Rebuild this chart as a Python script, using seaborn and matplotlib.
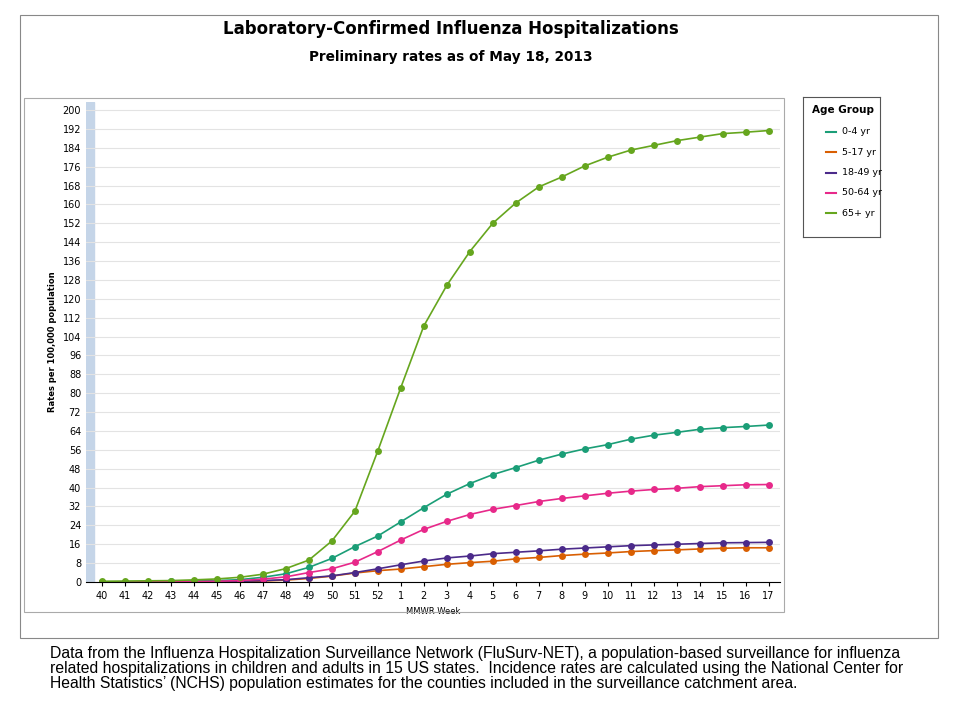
import matplotlib
matplotlib.use("Agg")
import matplotlib.pyplot as plt
import seaborn as sns
import pandas as pd
from matplotlib.patches import Rectangle

weeks = [str(w) for w in list(range(40, 53)) + list(range(1, 18))]
age_0_4 = [0.1,0.1,0.2,0.3,0.4,0.6,1.0,2.0,3.5,6.2,10.0,15.0,19.5,25.5,31.5,37.2,41.7,45.5,48.5,51.6,54.2,56.4,58.2,60.5,62.2,63.4,64.7,65.4,65.9,66.5]
age_5_17 = [0,0,0,0,0.1,0.1,0.2,0.4,0.8,1.5,2.5,3.8,4.8,5.5,6.5,7.5,8.2,8.8,9.8,10.4,11.2,11.8,12.3,12.9,13.3,13.6,14.0,14.3,14.5,14.5]
age_18_49 = [0,0,0,0,0.1,0.1,0.3,0.6,1.0,1.8,2.6,4.0,5.6,7.3,8.9,10.2,11.0,12.0,12.6,13.2,13.9,14.4,14.9,15.4,15.7,16.0,16.3,16.6,16.7,16.8]
age_50_64 = [0,0,0.1,0.1,0.2,0.3,0.6,1.2,2.2,4.0,5.6,8.4,12.9,17.8,22.3,25.7,28.6,30.8,32.4,34.1,35.4,36.5,37.6,38.5,39.2,39.7,40.4,40.8,41.2,41.3]
age_65 = [0.3,0.4,0.5,0.6,0.9,1.3,2.0,3.3,5.7,9.3,17.4,30.0,55.6,82.4,108.5,125.7,140.0,152.0,160.6,167.4,171.6,176.3,180.0,183.0,185.0,187.0,188.5,190.0,190.6,191.3]
groups = ["0-4 yr", "5-17 yr", "18-49 yr", "50-64 yr", "65+ yr"]
colors = ["#1b9e77", "#d95f02", "#4b2a8a", "#e7298a", "#66a61e"]

rows = []
for g, vals in zip(groups, [age_0_4, age_5_17, age_18_49, age_50_64, age_65]):
    for i, v in enumerate(vals):
        rows.append({"idx": i, "rate": v, "Age Group": g})
df = pd.DataFrame(rows)

fig = plt.figure(figsize=(9.6, 7.2), dpi=100)
fig.add_artist(Rectangle((20/960, 1-638/720), 918/960, 623/720, fill=False, ec="#888888", lw=0.8, transform=fig.transFigure))
fig.add_artist(Rectangle((24/960, 1-612/720), 760/960, 514/720, fill=False, ec="#aaaaaa", lw=0.8, transform=fig.transFigure))
ax = fig.add_axes([86/960, 1-582/720, 694/960, 480/720])
ax.set_xlim(-0.7, 29.5)
ax.set_ylim(0, 203.4)
ax.set_yticks(range(0, 201, 8))
ax.grid(axis="y", color="#e3e3e3", lw=0.8)
ax.set_axisbelow(True)
sns.lineplot(data=df, x="idx", y="rate", hue="Age Group", palette=colors, marker="o",
             markersize=5, markeredgewidth=0, lw=1.2, ax=ax, legend=False)
ax.axvspan(-0.7, -0.35, color="#c5d5e8", zorder=0)
ax.set_xticks(range(30))
ax.set_xticklabels(weeks, fontsize=7)
ax.tick_params(axis="y", labelsize=7, length=0)
ax.tick_params(axis="x", length=3)
for s in ["top", "right", "left"]:
    ax.spines[s].set_visible(False)
ax.set_xlabel("MMWR Week", fontsize=6)
ax.set_ylabel("Rates per 100,000 population", fontsize=6, fontweight="bold")

lax = fig.add_axes([803/960, 1-237/720, 77/960, 140/720])
lax.set_xticks([]); lax.set_yticks([])
for s in lax.spines.values():
    s.set_color("#555555")
lax.text(0.12, 0.91, "Age Group", fontsize=7.5, fontweight="bold", transform=lax.transAxes, va="center")
for i, (g, c) in enumerate(zip(groups, colors)):
    y = 0.75 - i * 0.145
    lax.plot([0.3, 0.43], [y, y], color=c, lw=1.5, transform=lax.transAxes)
    lax.text(0.5, y, g, fontsize=6.8, va="center", transform=lax.transAxes)

fig.text(0.47, 1-29/720, "Laboratory-Confirmed Influenza Hospitalizations", ha="center", va="center", fontsize=12, fontweight="bold")
fig.text(0.47, 1-57/720, "Preliminary rates as of May 18, 2013", ha="center", va="center", fontsize=9.8, fontweight="bold")
fig.text(50/960, 1-646/720,
         "Data from the Influenza Hospitalization Surveillance Network (FluSurv-NET), a population-based surveillance for influenza\n"
         "related hospitalizations in children and adults in 15 US states.  Incidence rates are calculated using the National Center for\n"
         "Health Statistics\u2019 (NCHS) population estimates for the counties included in the surveillance catchment area.",
         ha="left", va="top", fontsize=11.3, family="Liberation Sans", linespacing=1.0)
fig.savefig("out.png", dpi=100)
